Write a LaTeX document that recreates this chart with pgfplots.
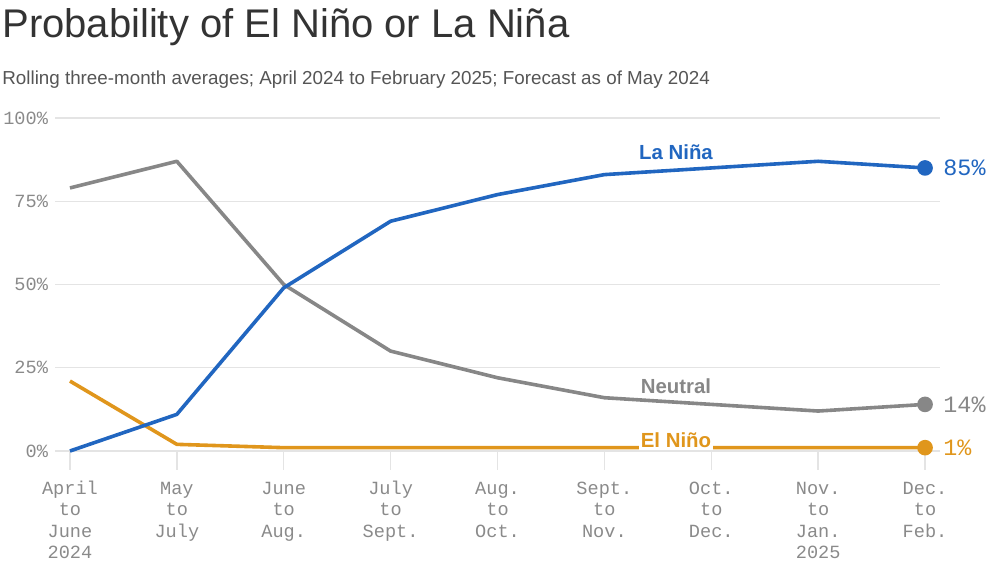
\documentclass[border=0pt]{standalone}
\usepackage{fontspec}
\setmainfont{Liberation Sans}
\newfontfamily\monofont{Liberation Mono}
\usepackage{pgfplots}
\pgfplotsset{compat=1.18}
\definecolor{ninablue}{HTML}{2166C0}
\definecolor{ninoorange}{HTML}{E0961C}
\definecolor{neutralgray}{HTML}{878787}
\definecolor{gridgray}{HTML}{E4E4E4}
\definecolor{ticklab}{HTML}{8A8A8A}
\definecolor{titlecol}{HTML}{333333}
\definecolor{subcol}{HTML}{555555}
\newcommand\fl{\vphantom{Jl}}
\begin{document}
\begin{tikzpicture}
\begin{axis}[
  scale only axis, width=442.5pt, height=166.5pt,
  at={(0,0)}, anchor=south west,
  xmin=-0.14, xmax=8.14, ymin=0, ymax=100,
  clip=false,
  axis line style={draw=none},
  ytick={0,25,50,75,100},
  yticklabels={0\%,25\%,50\%,75\%,100\%},
  ymajorgrids, grid style={gridgray, line width=0.7pt},
  xtick={0,1,2,3,4,5,6,7,8},
  xticklabels={\fl April\\to\\June\\2024, \fl May\\to\\July, \fl June\\to\\Aug., \fl July\\to\\Sept., \fl Aug.\\to\\Oct., \fl Sept.\\to\\Nov., \fl Oct.\\to\\Dec., \fl Nov.\\to\\Jan.\\2025, \fl Dec.\\to\\Feb.},
  xtick pos=bottom, ytick pos=left,
  tick align=outside,
  major tick length=9.5pt,
  x tick style={gridgray, line width=0.7pt},
  y tick style={draw=none},
  x tick label style={align=center, font=\monofont\fontsize{9.3}{10.75}\selectfont, text=ticklab, anchor=north, yshift=-1.8pt},
  y tick label style={font=\monofont\fontsize{9.3}{11}\selectfont, text=ticklab, xshift=9.5pt},
  line join=round,
]
\addplot[neutralgray, line width=1.8pt, mark=*, mark indices={9}, mark size=3pt] coordinates {
(0,79) (1,87) (2,50) (3,30) (4,22) (5,16) (6,14) (7,12) (8,14)};
\addplot[ninoorange, line width=1.8pt, mark=*, mark indices={9}, mark size=3pt] coordinates {
(0,21) (1,2) (2,1) (3,1) (4,1) (5,1) (6,1) (7,1) (8,1)};
\addplot[ninablue, line width=1.8pt, mark=*, mark indices={9}, mark size=3pt] coordinates {
(0,0) (1,11) (2,49) (3,69) (4,77) (5,83) (6,85) (7,87) (8,85)};
\node[anchor=base, font=\bfseries\fontsize{10.2}{12}\selectfont, text=ninablue, inner sep=0pt] at (axis cs:5.67,87.4) {La Niña};
\node[anchor=base, font=\bfseries\fontsize{10.2}{12}\selectfont, text=neutralgray, inner sep=0pt] at (axis cs:5.67,17.4) {Neutral};
\node[anchor=base, font=\bfseries\fontsize{10.2}{12}\selectfont, text=ninoorange, fill=white, inner xsep=1pt, inner ysep=1.5pt] at (axis cs:5.67,1.2) {El Niño};
\node[anchor=west, font=\monofont\fontsize{11.7}{13}\selectfont, text=ninablue, inner sep=0pt] at ([xshift=9pt]axis cs:8,85) {85\%};
\node[anchor=west, font=\monofont\fontsize{11.7}{13}\selectfont, text=neutralgray, inner sep=0pt] at ([xshift=9pt]axis cs:8,14) {14\%};
\node[anchor=west, font=\monofont\fontsize{11.7}{13}\selectfont, text=ninoorange, inner sep=0pt] at ([xshift=9pt]axis cs:8,1) {1\%};
\end{axis}
\node[anchor=base west, inner sep=0pt, text=titlecol, font=\fontsize{20}{24}\selectfont] at (-26.5pt,206.5pt) {Probability of El Niño or La Niña};
\node[anchor=base west, inner sep=0pt, text=subcol, font=\fontsize{9.4}{11}\selectfont] at (-26.5pt,183pt) {Rolling three-month averages; April 2024 to February 2025; Forecast as of May 2024};
\pgfresetboundingbox
\path (-27.5pt,-55.5pt) rectangle (472.5pt,225.5pt);
\end{tikzpicture}
\end{document}
